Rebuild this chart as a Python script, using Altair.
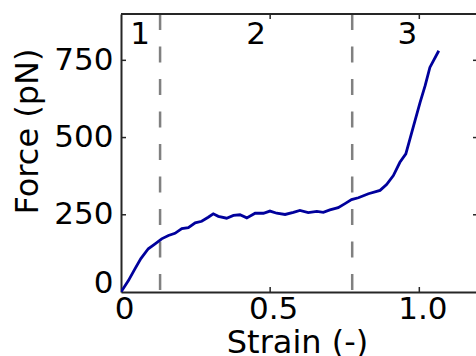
import altair as alt
import pandas as pd

# Force-strain curve
strain = [0, 0.0249, 0.0467, 0.0666, 0.0915, 0.1144, 0.1363, 0.1591, 0.181, 0.2039,
          0.2258, 0.2487, 0.2705, 0.2924, 0.3093, 0.3262, 0.3541, 0.377, 0.3988, 0.4217,
          0.4496, 0.4774, 0.4993, 0.5222, 0.55, 0.5779, 0.5997, 0.6276, 0.6564, 0.6783,
          0.7002, 0.728, 0.7509, 0.7728, 0.7957, 0.8295, 0.8683, 0.8902, 0.913, 0.9349,
          0.9548, 0.9687, 0.9856, 1.0026, 1.0195, 1.0354, 1.0652]
force = [0, 37, 75, 108, 140, 156, 172, 183, 190, 205,
         208, 224, 229, 242, 253, 245, 239, 248, 250, 240,
         255, 255, 262, 255, 251, 258, 264, 257, 261, 258,
         266, 273, 286, 299, 305, 318, 329, 348, 377, 420,
         447, 496, 555, 614, 668, 727, 781]

# Regime boundaries and regime labels
boundaries = [0.131, 0.775]
regime_names = ["1", "2", "3"]
regime_pos = [0.064, 0.453, 0.96]

# Tick values
x_ticks = [0, 0.5, 1.0]
y_ticks = [0, 250, 500, 750]

W, H = 355, 278
FONT = "DejaVu Sans"
SPINE = "#262626"

curve = pd.DataFrame({"strain": strain, "force": force})
bounds = pd.DataFrame({"b": boundaries})
regimes = pd.DataFrame({"name": regime_names, "pos": regime_pos})
xt = pd.DataFrame({"v": [v for v in x_ticks if v > 0]})
yt = pd.DataFrame({"v": [v for v in y_ticks if v > 0]})

xscale = alt.Scale(domain=[0, 1.19], nice=False, zero=False)
yscale = alt.Scale(domain=[0, 900], nice=False, zero=False)

line = alt.Chart(curve).mark_line(color="#00009C", strokeWidth=2.8, clip=True).encode(
    x=alt.X("strain:Q", scale=xscale, title="Strain (-)",
            axis=alt.Axis(values=x_ticks,
                          labelExpr="datum.value == 0 ? '0' : format(datum.value, '.1f')",
                          ticks=False, tickSize=0, labelPadding=2, labelOffset=3,
                          labelFlush=False, labelBound=False,
                          grid=False, domainColor=SPINE, domainWidth=2,
                          labelFont=FONT, labelFontSize=31, labelColor="black",
                          titleFont=FONT, titleFontSize=32, titleFontWeight="normal",
                          titleColor="black", titleX=176, titleY=60,
                          titleBaseline="alphabetic", titleAlign="center")),
    y=alt.Y("force:Q", scale=yscale, title="Force (pN)",
            axis=alt.Axis(values=y_ticks, format="d",
                          ticks=False, tickSize=0, labelPadding=8,
                          labelFlush=True, labelFlushOffset=7,
                          grid=False, domainColor=SPINE, domainWidth=2,
                          labelFont=FONT, labelFontSize=31, labelColor="black",
                          titleFont=FONT, titleFontSize=32, titleFontWeight="normal",
                          titleColor="black", titleX=-84, titleY=117, titleAngle=-90,
                          titleBaseline="alphabetic", titleAlign="center")),
)

dashed = alt.Chart(bounds).mark_rule(color="#808080", strokeWidth=2.5,
                                     strokeDash=[16, 16.5]).encode(
    x=alt.X("b:Q", scale=xscale), y=alt.value(0), y2=alt.value(H)
)

labels = alt.Chart(regimes).mark_text(font=FONT, fontSize=31, color="black",
                                      align="center", baseline="alphabetic").encode(
    x=alt.X("pos:Q", scale=xscale), y=alt.value(30), text="name:N"
)

top_spine = alt.Chart(curve).mark_rule(color=SPINE, strokeWidth=2).encode(
    x=alt.value(0), x2=alt.value(W + 5), y=alt.value(0)
)

# inward ticks on all four sides
tick_style = dict(color=SPINE, strokeWidth=1.5)
bottom_ticks = alt.Chart(xt).mark_rule(**tick_style).encode(
    x=alt.X("v:Q", scale=xscale), y=alt.value(H), y2=alt.value(H - 5))
top_ticks = alt.Chart(xt).mark_rule(**tick_style).encode(
    x=alt.X("v:Q", scale=xscale), y=alt.value(0), y2=alt.value(5))
left_ticks = alt.Chart(yt).mark_rule(**tick_style).encode(
    y=alt.Y("v:Q", scale=yscale), x=alt.value(0), x2=alt.value(5))
right_ticks = alt.Chart(yt).mark_rule(**tick_style).encode(
    y=alt.Y("v:Q", scale=yscale), x=alt.value(W - 3), x2=alt.value(W + 3))

chart = alt.layer(
    dashed, line, labels, top_spine, bottom_ticks, top_ticks, left_ticks, right_ticks
).properties(
    width=W, height=H,
    autosize=alt.AutoSizeParams(type="none"),
    padding={"left": 121, "top": 14, "right": 0, "bottom": 64},
).configure_view(stroke=None).configure(background="white")

chart.save("out.html", embed_options={"renderer": "svg", "actions": False})
